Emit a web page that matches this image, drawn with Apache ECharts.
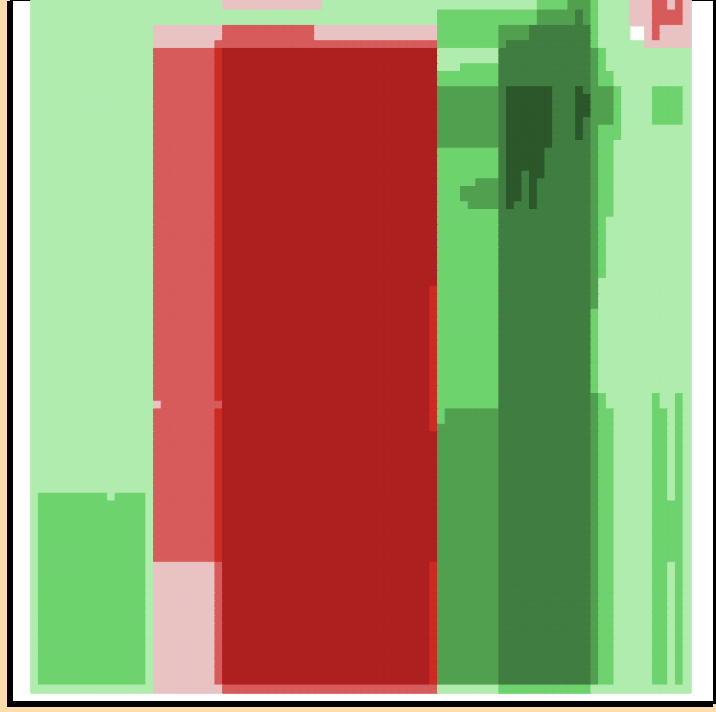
<!DOCTYPE html>
<html><head><meta charset="utf-8">
<script src="https://cdn.jsdelivr.net/npm/echarts@6/dist/echarts.min.js"></script>
<style>
html,body{margin:0;padding:0;width:716px;height:712px;overflow:hidden;background:#fedcab;}
#frame{position:absolute;left:10px;top:-2px;width:700px;height:700px;border:3px solid #000;box-shadow:-3px 3px 0 #000;background:#fff;}
#chart{position:absolute;left:0;top:-5px;width:716px;height:717px;}
</style></head><body>
<div id="frame"></div><div id="chart"></div>
<script>
// level codes -> values -> colours
const levelCodes  = ['P', 'R', 'B', 'D', 'L', 'M', 'G', 'K', 'X'];
const levelValues = [-1, -2, -3, -4, 1, 2, 3, 4, 5];
const levelColors = ['#e9c3c3', '#d75b5b', '#cd2a22', '#ae2020', '#b0ecae', '#6ed36e', '#51a04f', '#407d40', '#2b572b'];
const columnCount = 86;
// each row: run-length tokens (count + level code); W = empty cell
const rowRuns = [
  "25L 13P 28L 4M 3G 1M 4L 3P 2R 1P 1R 1P",
  "25L 13P 28L 4M 3G 1M 4L 3P 2R 1P 1R 1P",
  "53L 13M 5G 1K 1G 1M 4L 3P 4R 1P",
  "53L 13M 5G 1K 1G 1M 4L 3P 4R 1P",
  "16L 9P 12R 16P 8M 4G 8K 1M 4L 2W 1P 1R 4P",
  "16L 9P 12R 16P 8M 4G 8K 1M 4L 2W 1P 1R 4P",
  "16L 8P 29R 8M 1G 11K 1M 6L 6P",
  "16L 8R 1B 28D 8L 12K 1G 1M 11L",
  "16L 8R 1B 28D 8L 12K 1G 1M 11L",
  "16L 8R 1B 28D 3L 5M 12K 1G 1M 11L",
  "16L 8R 1B 28D 8M 12K 1G 2M 10L",
  "16L 8R 1B 28D 8M 12K 1G 2M 10L",
  "16L 8R 1B 28D 8G 1K 6X 3K 1X 1K 3G 1M 4L 4M 1L",
  "16L 8R 1B 28D 8G 1K 6X 3K 2X 3G 1M 4L 4M 1L",
  "16L 8R 1B 28D 8G 1K 6X 3K 2X 3G 1M 4L 4M 1L",
  "16L 8R 1B 28D 8G 1K 6X 3K 2X 3G 1M 4L 4M 1L",
  "16L 8R 1B 28D 8G 1K 6X 3K 1X 1K 3G 1M 4L 4M 1L",
  "16L 8R 1B 28D 8G 1K 6X 3K 1X 1K 1G 3M 9L",
  "16L 8R 1B 28D 8G 1K 6X 3K 1X 1K 1G 3M 9L",
  "16L 8R 1B 28D 8G 1K 6X 5K 1G 2M 10L",
  "16L 8R 1B 28D 8M 1K 5X 6K 1G 2M 10L",
  "16L 8R 1B 28D 8M 1K 5X 6K 1G 2M 10L",
  "16L 8R 1B 28D 8M 1K 5X 6K 1G 2M 10L",
  "16L 8R 1B 28D 8M 1K 2X 1K 2X 6K 1G 2M 10L",
  "16L 8R 1B 28D 5M 3G 1K 2X 1K 1X 7K 1G 2M 10L",
  "16L 8R 1B 28D 3M 5G 1K 2X 1K 1X 7K 1G 2M 10L",
  "16L 8R 1B 28D 3M 5G 1K 2X 1K 1X 7K 1G 2M 10L",
  "16L 8R 1B 28D 4M 4G 1K 1X 2K 1X 7K 1G 2M 10L",
  "16L 8R 1B 28D 8M 12K 1G 2M 10L",
  "16L 8R 1B 28D 8M 12K 1G 1M 11L",
  "16L 8R 1B 28D 8M 12K 1G 1M 11L",
  "16L 8R 1B 28D 8M 12K 1G 1M 11L",
  "16L 8R 1B 28D 8M 12K 1G 1M 11L",
  "16L 8R 1B 28D 8M 12K 1G 1M 11L",
  "16L 8R 1B 28D 8M 12K 1G 1M 11L",
  "16L 8R 1B 28D 8M 12K 1G 1M 11L",
  "16L 8R 1B 28D 8M 12K 1G 1M 11L",
  "16L 8R 1B 28D 8M 12K 1G 12L",
  "16L 8R 1B 27D 1B 8M 12K 1G 12L",
  "16L 8R 1B 27D 1B 8M 12K 1G 12L",
  "16L 8R 1B 27D 1B 8M 12K 1G 12L",
  "16L 8R 1B 27D 1B 8M 12K 1M 12L",
  "16L 8R 1B 27D 1B 8M 12K 1M 12L",
  "16L 8R 1B 27D 1B 8M 12K 1M 12L",
  "16L 8R 1B 27D 1B 8M 12K 1M 12L",
  "16L 8R 1B 27D 1B 8M 12K 1M 12L",
  "16L 8R 1B 27D 1B 8M 12K 1M 12L",
  "16L 8R 1B 27D 1B 8M 12K 1M 12L",
  "16L 8R 1B 27D 1B 8M 12K 1M 12L",
  "16L 8R 1B 27D 1B 8M 12K 1M 12L",
  "16L 8R 1B 27D 1B 8M 12K 1M 12L",
  "16L 8R 1B 27D 1B 8M 12K 1M 12L",
  "16L 8R 1B 27D 1B 8M 12K 1G 1M 6L 1M 2L 1M 1L",
  "16L 1P 8R 27D 1B 8M 12K 1G 1M 6L 1M 2L 1M 1L",
  "16L 8R 1B 27D 1B 1M 7G 12K 1G 2M 5L 2M 1L 1M 1L",
  "16L 8R 1B 27D 1B 1M 7G 12K 1G 2M 5L 2M 1L 1M 1L",
  "16L 8R 1B 27D 1B 8G 12K 1G 2M 5L 2M 1L 1M 1L",
  "16L 8R 1B 28D 8G 12K 1G 2M 5L 2M 1L 1M 1L",
  "16L 8R 1B 28D 8G 12K 1G 2M 5L 2M 1L 1M 1L",
  "16L 8R 1B 28D 8G 12K 1G 2M 5L 2M 1L 1M 1L",
  "16L 8R 1B 28D 8G 12K 1G 2M 5L 2M 1L 1M 1L",
  "16L 8R 1B 28D 8G 12K 1G 2M 5L 2M 1L 1M 1L",
  "16L 8R 1B 28D 8G 12K 1G 2M 5L 2M 1L 1M 1L",
  "16L 8R 1B 28D 8G 12K 1G 2M 5L 2M 1L 1M 1L",
  "16L 8R 1B 28D 8G 12K 1G 2M 5L 2M 1L 1M 1L",
  "1L 9M 1L 4M 1L 8R 1B 28D 8G 12K 1G 2M 5L 2M 1L 1M 1L",
  "1L 14M 1L 8R 1B 28D 8G 12K 1G 2M 5L 4M 1L",
  "1L 14M 1L 8R 1B 28D 8G 12K 1G 2M 5L 4M 1L",
  "1L 14M 1L 8R 1B 28D 8G 12K 1G 2M 5L 4M 1L",
  "1L 14M 1L 8R 1B 28D 8G 12K 1G 2M 5L 4M 1L",
  "1L 14M 1L 8R 1B 28D 8G 12K 1G 2M 5L 4M 1L",
  "1L 14M 1L 8R 1B 28D 8G 12K 1G 2M 5L 4M 1L",
  "1L 14M 1L 8R 1B 28D 8G 12K 1G 2M 5L 4M 1L",
  "1L 14M 1L 8R 1B 28D 8G 12K 1G 2M 5L 4M 1L",
  "1L 14M 1L 8P 1R 27D 1B 8G 12K 1G 2M 5L 2M 1L 1M 1L",
  "1L 14M 1L 8P 1R 27D 1B 8G 12K 1G 2M 5L 2M 1L 1M 1L",
  "1L 14M 1L 8P 1R 27D 1B 8G 12K 1G 2M 5L 2M 1L 1M 1L",
  "1L 14M 1L 8P 1R 27D 1B 8G 12K 1G 2M 5L 2M 1L 1M 1L",
  "1L 14M 1L 8P 1R 27D 1B 8G 12K 1G 2M 5L 2M 1L 1M 1L",
  "1L 14M 1L 8P 1R 27D 1B 8G 12K 1G 2M 5L 2M 1L 1M 1L",
  "1L 14M 1L 8P 1R 27D 1B 8G 12K 1G 2M 5L 2M 1L 1M 1L",
  "1L 14M 1L 8P 1R 27D 1B 8G 12K 1G 2M 5L 2M 1L 1M 1L",
  "1L 14M 1L 8P 1R 27D 1B 8G 12K 1G 2M 5L 2M 1L 1M 1L",
  "1L 14M 1L 8P 1R 27D 1B 8G 12K 1G 2M 5L 2M 1L 1M 1L",
  "1L 14M 1L 8P 1R 27D 1B 8G 12K 1G 2M 5L 2M 1L 1M 1L",
  "1L 14M 1L 8P 1R 27D 1B 8G 12K 1G 2M 5L 2M 1L 1M 1L",
  "1L 14M 1L 8P 1R 27D 1B 8G 12K 1G 2M 5L 2M 1L 1M 1L",
  "1L 14M 1L 8P 1R 27D 1B 8G 12K 1G 2M 5L 2M 1L 1M 1L",
  "1L 14M 1L 8P 1R 27D 1B 8G 12K 1G 2M 5L 2M 1L 1M 1L",
  "1L 14M 1L 8P 1R 27D 1B 8G 12K 1G 2M 5L 2M 1L 1M 1L",
  "16L 9P 28R 8L 12M 13L"
];

const xCategories = Array.from({length: columnCount}, (_, i) => String(i));
const yCategories = rowRuns.map((_, i) => String(i));
const cells = [];
rowRuns.forEach((row, r) => {
  let c = 0;
  row.trim().split(/\s+/).forEach(tok => {
    const n = parseInt(tok, 10);
    const code = tok.replace(/^\d+/, '');
    const idx = levelCodes.indexOf(code);
    for (let k = 0; k < n; k++) {
      if (idx >= 0) {
        const col = levelColors[idx];
        cells.push({value: [c, r, levelValues[idx]], itemStyle: {color: col, borderColor: col, borderWidth: 1}});
      }
      c++;
    }
  });
  if (c !== columnCount) console.warn('row', r, 'has', c);
});

const chart = echarts.init(document.getElementById('chart'), null, {renderer: 'canvas'});
chart.setOption({
  animation: false,
  backgroundColor: 'transparent',
  grid: {left: 31, right: 25, top: 0, bottom: 19, containLabel: false},
  xAxis: {type: 'category', data: xCategories, show: false},
  yAxis: {type: 'category', data: yCategories, inverse: true, show: false},
  series: [{
    type: 'heatmap', data: cells, progressive: 0,
    emphasis: {disabled: true}
  }]
});
</script>
</body></html>
